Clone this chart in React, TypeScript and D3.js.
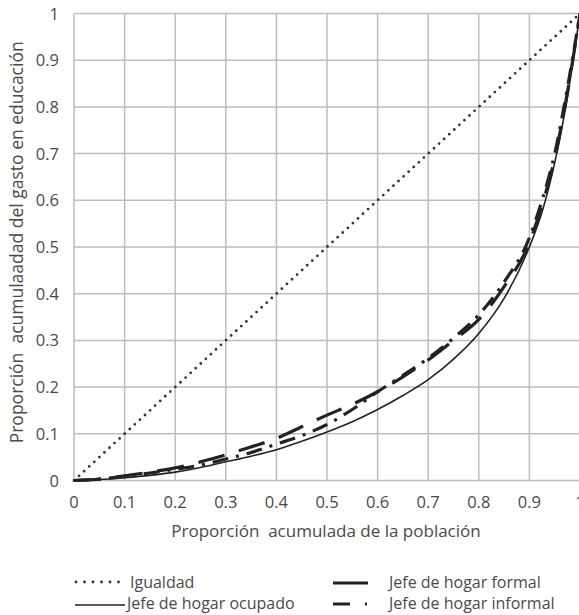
import React, { useRef, useEffect } from "react";
import * as d3 from "d3";

// cumulative population share
const popShare = [0, 0.05, 0.1, 0.15, 0.2, 0.25, 0.3, 0.35, 0.4, 0.45, 0.5, 0.55, 0.6, 0.65, 0.7, 0.75, 0.8, 0.85, 0.9, 0.925, 0.95, 0.975, 1];

// cumulative share of education spending
const ocupado = [0, 0.002, 0.006, 0.011, 0.018, 0.028, 0.04, 0.052, 0.066, 0.084, 0.104, 0.126, 0.152, 0.182, 0.216, 0.26, 0.315, 0.39, 0.5, 0.575, 0.68, 0.82, 1.0];
const formal = [0, 0.003, 0.01, 0.018, 0.027, 0.04, 0.055, 0.072, 0.09, 0.115, 0.14, 0.163, 0.19, 0.222, 0.258, 0.3, 0.345, 0.415, 0.51, 0.59, 0.69, 0.83, 1.0];
const informal = [0, 0.003, 0.009, 0.016, 0.024, 0.033, 0.046, 0.06, 0.078, 0.096, 0.12, 0.152, 0.19, 0.225, 0.262, 0.305, 0.355, 0.425, 0.52, 0.6, 0.7, 0.84, 1.0];
const igualdad = [0, 1];

const xTicks = [0, 0.1, 0.2, 0.3, 0.4, 0.5, 0.6, 0.7, 0.8, 0.9, 1];
const yTicks = [0, 0.1, 0.2, 0.3, 0.4, 0.5, 0.6, 0.7, 0.8, 0.9, 1];

const FONT = "'Open Sans', 'DejaVu Sans', sans-serif";
const TEXT = "#4a4a4a";

const App = () => {
  const svgRef = useRef<SVGSVGElement>(null);

  useEffect(() => {
    const svg = d3.select(svgRef.current);
    svg.selectAll("*").remove();

    const width = 579;
    const height = 615;
    const margin = { top: 13.5, right: -1, bottom: 134.5, left: 74 };

    const x = d3.scaleLinear().domain([0, 1]).range([margin.left, width - margin.right]);
    const y = d3.scaleLinear().domain([0, 1]).range([height - margin.bottom, margin.top]);

    // grid
    const grid = svg.append("g").attr("stroke", "#bdbdbd").attr("stroke-width", 1.5);
    grid.selectAll(".vx")
      .data(xTicks)
      .enter()
      .append("line")
      .attr("x1", d => x(d)).attr("x2", d => x(d))
      .attr("y1", y(0)).attr("y2", y(1));
    grid.selectAll(".hy")
      .data(yTicks)
      .enter()
      .append("line")
      .attr("x1", x(0)).attr("x2", x(1))
      .attr("y1", d => y(d)).attr("y2", d => y(d));

    // tick labels
    const fmt = (d: number) => (d === 0 || d === 1 ? String(d) : d.toFixed(1));
    svg.append("g")
      .selectAll("text")
      .data(xTicks)
      .enter()
      .append("text")
      .attr("x", d => x(d))
      .attr("y", y(0) + 27.5)
      .attr("text-anchor", "middle")
      .attr("font-family", FONT)
      .attr("font-size", 16.5)
      .attr("fill", TEXT)
      .text(fmt);
    svg.append("g")
      .selectAll("text")
      .data(yTicks)
      .enter()
      .append("text")
      .attr("x", 59)
      .attr("y", d => y(d) + 6)
      .attr("text-anchor", "end")
      .attr("font-family", FONT)
      .attr("font-size", 16.5)
      .attr("fill", TEXT)
      .text(fmt);

    // axis titles
    svg.append("text")
      .attr("x", x(0.5) - 1)
      .attr("y", y(0) + 56.5)
      .attr("text-anchor", "middle")
      .attr("font-family", FONT)
      .attr("font-size", 17)
      .attr("fill", TEXT)
      .style("white-space", "pre")
      .text("Proporción  acumulada de la población");
    svg.append("text")
      .attr("text-anchor", "middle")
      .attr("transform", `translate(23,${y(0.51)})rotate(-90)`)
      .attr("font-family", FONT)
      .attr("font-size", 17.5)
      .attr("fill", TEXT)
      .style("white-space", "pre")
      .text("Proporción  acumulaadad del gasto en educación");

    const line = d3.line<[number, number]>()
      .x(d => x(d[0]))
      .y(d => y(d[1]))
      .curve(d3.curveMonotoneX);

    const series = [
      { name: "Igualdad", xs: igualdad, ys: igualdad, width: 2.8, dash: "0 6.9", cap: "round", color: "#333" },
      { name: "Jefe de hogar ocupado", xs: popShare, ys: ocupado, width: 1.6, dash: null, cap: "butt", color: "#222" },
      { name: "Jefe de hogar formal", xs: popShare, ys: formal, width: 3.2, dash: "27 15", cap: "butt", color: "#222" },
      { name: "Jefe de hogar informal", xs: popShare, ys: informal, width: 3.2, dash: "16 8 3 8", cap: "butt", color: "#222" },
    ];

    series.forEach(s => {
      const pts = s.xs.map((v, i) => [v, s.ys[i]] as [number, number]);
      svg.append("path")
        .datum(pts)
        .attr("fill", "none")
        .attr("stroke", s.color)
        .attr("stroke-width", s.width)
        .attr("stroke-linecap", s.cap)
        .attr("stroke-dasharray", s.dash)
        .attr("d", line);
    });

    // legend
    const legendItems = [
      { s: series[0], sx1: 76, sx2: 120, tx: 130, ly: 582, ty: 588, dash: "0 8.5" },
      { s: series[1], sx1: 75, sx2: 125, tx: 127, ly: 605, ty: 609, dash: null },
      { s: series[2], sx1: 333, sx2: 368, tx: 389, ly: 583, ty: 588, dash: null },
      { s: series[3], sx1: 333, sx2: 370, tx: 389, ly: 604, ty: 609, dash: "17 15 2 20" },
    ];
    const lg = svg.append("g");
    legendItems.forEach(l => {
      lg.append("line")
        .attr("x1", l.sx1).attr("x2", l.sx2)
        .attr("y1", l.ly).attr("y2", l.ly)
        .attr("stroke", l.s.color)
        .attr("stroke-width", l.s.width)
        .attr("stroke-linecap", l.s.cap)
        .attr("stroke-dasharray", l.dash);
      lg.append("text")
        .attr("x", l.tx)
        .attr("y", l.ty)
        .attr("font-family", FONT)
        .attr("font-size", 16)
        .attr("fill", TEXT)
        .text(l.s.name);
    });
  }, []);

  return (
    <svg
      ref={svgRef}
      width={579}
      height={615}
      style={{ position: "absolute", left: 0, top: 0, background: "#fff" }}
    ></svg>
  );
};

export default App;
